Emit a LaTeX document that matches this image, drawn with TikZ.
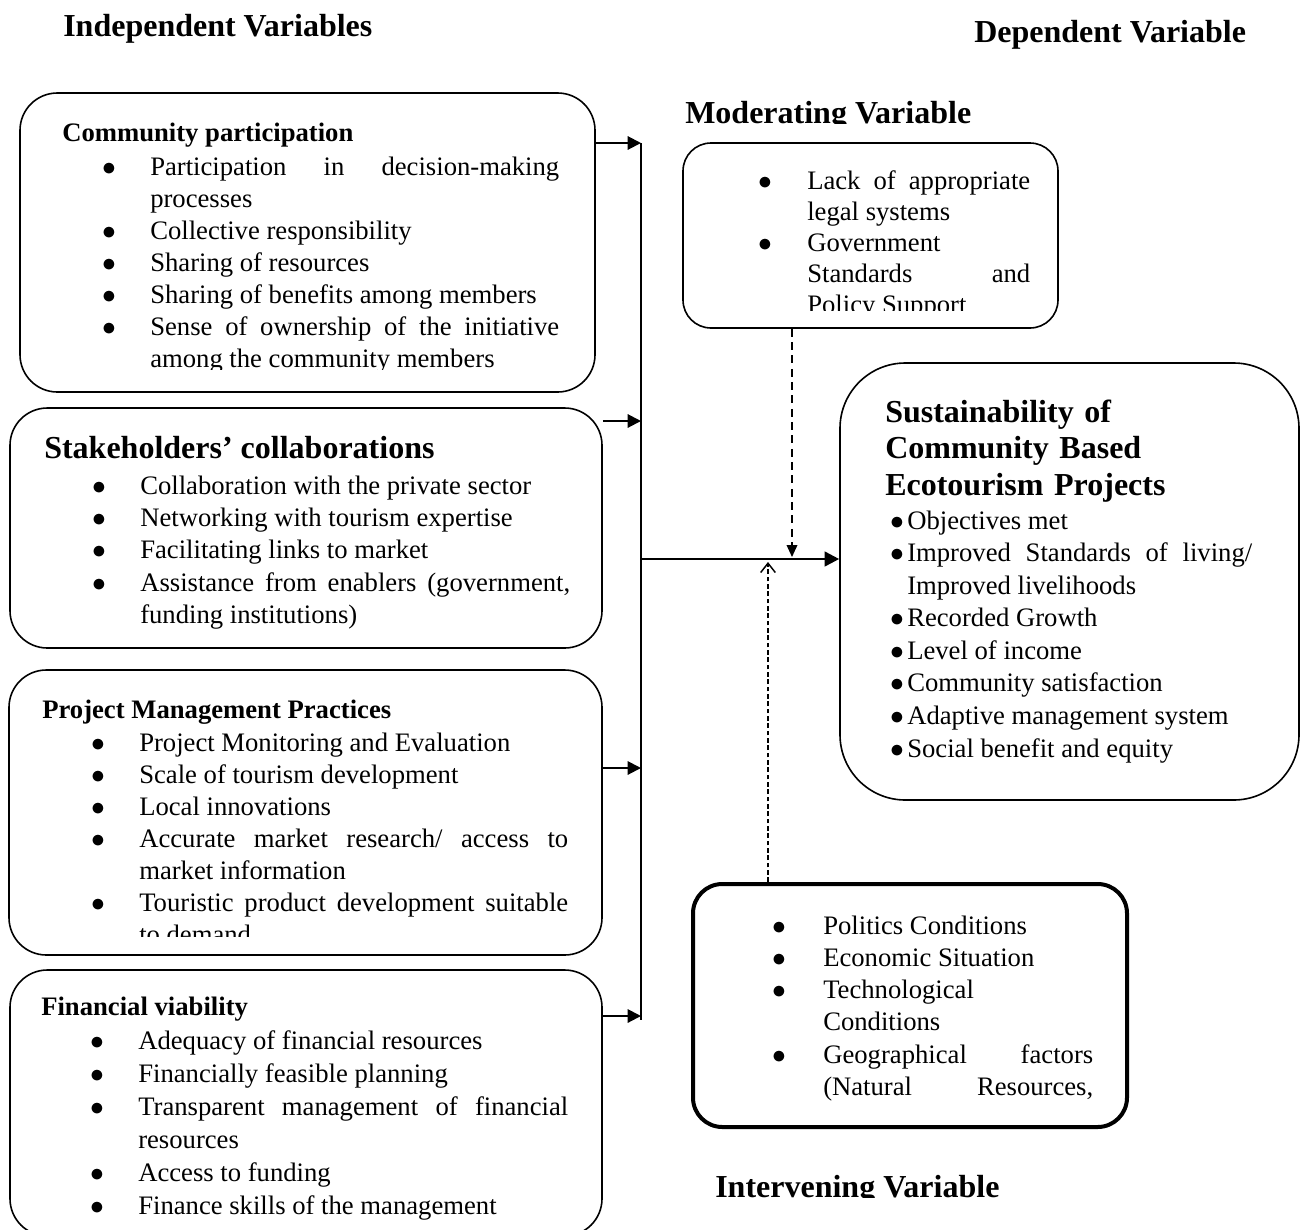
\documentclass[tikz,border=0pt]{standalone}
\usepackage{fontspec}
\setmainfont{Liberation Serif}
\usetikzlibrary{arrows.meta,fit}
\hyphenpenalty=10000
\exhyphenpenalty=10000
\tolerance=9999
\emergencystretch=20pt
\newcommand\bodyfont[1]{\fontsize{20pt}{#1}\selectfont}
\newcommand\headbig{\fontsize{24pt}{27.4pt}\selectfont\bfseries}
\newcommand\headsmall{\fontsize{20pt}{24pt}\selectfont\bfseries}
\newlength\bulgap
\setlength\bulgap{25.75pt}
\newcommand\bulmark{\llap{$\bullet$\hspace{\bulgap}}}
\newcommand\bone{\noindent\bulmark\rule{0pt}{17pt}}
\newcommand\bi{\par\noindent\bulmark\rule{0pt}{17pt}}
\tikzset{
 box/.style={draw, line width=1.2pt, rounded corners=28pt, inner sep=0pt},
 txt/.style={anchor=north west, inner sep=0pt, text width=#1, align=justify},
 ttl/.style={anchor=base west, inner sep=0pt, font=\headbig},
 hd/.style={anchor=base west, inner sep=0pt, font=\headsmall},
 feed/.style={line width=1.5pt, -{Triangle[length=10pt,width=10pt]}},
 busline/.style={line width=1.1pt},
 mainarr/.style={line width=2pt, -{Triangle[length=11pt,width=11pt]}},
 moddash/.style={line width=1.1pt, dash pattern=on 6pt off 4pt, -{Triangle[length=9pt,width=8pt]}},
 intdash/.style={line width=1.1pt, dash pattern=on 3.5pt off 2pt, -{Straight Barb[length=7pt,width=11pt]}},
}
\begin{document}
\begin{tikzpicture}[x=0.75pt,y=-0.75pt]
\useasboundingbox (0,0) rectangle (1307,1229);
\begin{scope}
\clip (0,0) rectangle (1307,1229);

% titles
\node[ttl] (tind) at (63,36) {Independent Variables};
\node[ttl] (tdep) at (974,42) {Dependent Variable};
\begin{scope}
\clip (600,60) rectangle (1100,123.5);
\node[ttl] (tmod) at (685,123) {Moderating Variable};
\end{scope}
\begin{scope}
\clip (600,1150) rectangle (1100,1197.5);
\node[ttl] (tint) at (715,1197) {Intervening Variable};
\end{scope}

% boxes
\node[box, fit={(20,93) (595,392)}] (cp) {};
\node[box, fit={(10,408) (602,648)}] (sc) {};
\node[box, fit={(9,670) (602,955)}] (pm) {};
\node[box, fit={(10,970) (602,1236)}] (fv) {};
\node[box, rounded corners=21pt, fit={(683,143) (1058,328)}] (mod) {};
\node[box, rounded corners=49pt, fit={(840,363) (1299,800)}] (sus) {};
\node[box, line width=3pt, rounded corners=22pt, fit={(693,884) (1127,1127)}] (int) {};

% community participation
\node[hd] (cph) at (62,141) {Community participation};
\begin{scope}
\clip (20,93) rectangle (595,369);
\node[txt=306.75pt, font=\bodyfont{24pt}] (cpt) at (150,175-22.67)
 {\bone Participation in decision-making\linebreak processes
  \bi Collective responsibility
  \bi Sharing of resources
  \bi Sharing of benefits among  members
  \bi Sense of ownership of the initiative\linebreak among the community members};
\end{scope}

% stakeholders
\node[ttl] (sch) at (44,458) {Stakeholders’ collaborations};
\node[txt=322.5pt, font=\bodyfont{24.2pt}] (sct) at (140,494-22.67)
 {\bone Collaboration with the private sector
  \bi Networking with tourism expertise
  \bi Facilitating links to market
  \bi Assistance from enablers (government,\linebreak funding institutions)};

% project management
\node[hd] (pmh) at (42,718) {Project Management Practices};
\begin{scope}
\clip (9,670) rectangle (602,936);
\node[txt=321.75pt, font=\bodyfont{24pt}] (pmt) at (139,751-22.67)
 {\bone Project Monitoring and Evaluation
  \bi Scale of tourism development
  \bi Local innovations
  \bi Accurate market research/ access to\linebreak market information
  \bi Touristic product development suitable\linebreak to demand};
\end{scope}

% financial viability
\node[hd] (fvh) at (41,1015) {Financial viability};
\node[txt=322.5pt, font=\bodyfont{24.75pt}] (fvt) at (138,1049-22.67)
 {\bone Adequacy of financial resources
  \bi Financially feasible planning
  \bi Transparent management of financial\linebreak resources
  \bi Access to funding
  \bi Finance skills of the management};

% moderating
\begin{scope}
\clip (683,143) rectangle (1058,310);
\node[txt=167.25pt, font=\bodyfont{23.25pt}] (modt) at (807,189-22.67)
 {\setlength\bulgap{26.5pt}%
  \bone Lack of appropriate\linebreak legal systems
  \bi Government\newline Standards and\linebreak Policy Support};
\end{scope}

% sustainability
\node[anchor=north west, inner sep=0pt, text width=300pt, align=left, font=\headbig] (sust)
 at (885,422-22.67) {\rule{0pt}{17pt}Sustainability of\\ Community Based\\ Ecotourism Projects};
\node[txt=258.75pt, font=\bodyfont{24.4pt}] (sustt) at (907,529-22.67)
 {\setlength\bulgap{2.5pt}%
  \bone Objectives met
  \bi Improved Standards of living/\linebreak Improved livelihoods
  \bi Recorded Growth
  \bi Level of income
  \bi Community satisfaction
  \bi Adaptive management system
  \bi Social benefit and equity};

% intervening
\begin{scope}
\clip (693,884) rectangle (1127,1104);
\node[txt=202.5pt, font=\bodyfont{24.15pt}] (intt) at (823,934-22.67)
 {\setlength\bulgap{28pt}%
  \bone Politics Conditions
  \bi Economic Situation
  \bi Technological\newline Conditions
  \bi Geographical factors\linebreak (Natural\hfill Resources,};
\end{scope}

% connectors
\coordinate (bt) at (641,143);
\coordinate (bb) at (641,1020);
\coordinate (a2) at (641,421);
\coordinate (a3) at (641,768);
\coordinate (a4) at (641,1016);
\draw[busline] (bt) -- (bb);
\draw[feed] (cp.east |- bt) -- (bt);
\draw[feed] (sc.east |- a2) -- (a2);
\draw[feed] (pm.east |- a3) -- (a3);
\draw[feed] (fv.east |- a4) -- (a4);

\coordinate (mstart) at (641,559);
\draw[mainarr] (mstart) -- (mstart -| sus.west);

\coordinate (mtip) at (792,557);
\draw[moddash] (mod.south -| mtip) -- (mtip);
\coordinate (itip) at (768,562);
\draw[intdash] (int.north -| itip) -- (itip);
\end{scope}
\end{tikzpicture}
\end{document}
